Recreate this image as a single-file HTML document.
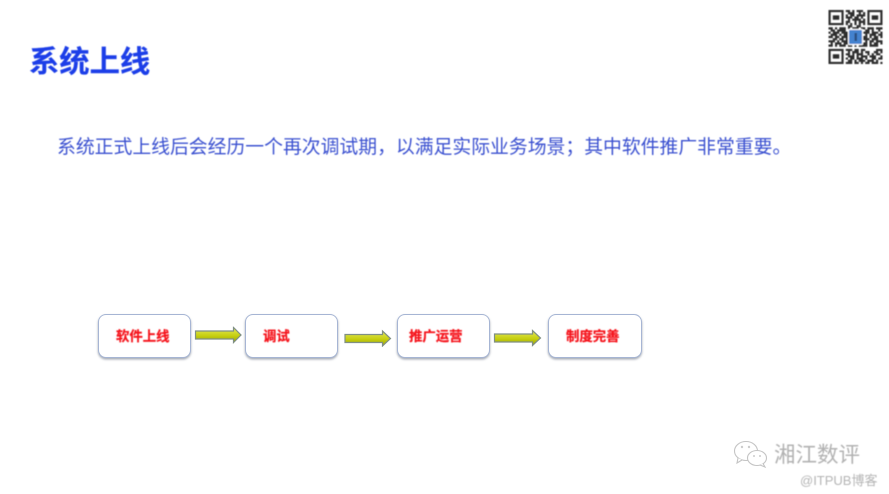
<!DOCTYPE html>
<html lang="zh">
<head>
<meta charset="utf-8">
<style>
html,body{margin:0;padding:0;background:#fff}
body{width:889px;height:494px;overflow:hidden;position:relative;font-family:"Liberation Sans","Noto Sans CJK SC",sans-serif}
.t{position:absolute;white-space:nowrap;line-height:1}
.title{left:29px;top:48px;font-size:30.300px;font-weight:700;color:#1c3ee8;filter:blur(.4px);-webkit-text-stroke:.2px #1c3ee8}
.body{left:57px;top:138px;font-size:18.830px;color:#3a50d0;filter:blur(.4px)}
.box{position:absolute;top:314px;width:93px;height:44px;box-sizing:border-box;background:#fff;border:1.700px solid #a6b5d4;border-radius:8px;box-shadow:0 1.500px 2px rgba(90,100,120,.55)}
.lab{top:330px;font-size:13.400px;font-weight:700;color:#f5141c;filter:blur(.45px);-webkit-text-stroke:.25px #f5141c}
.wm{filter:blur(.55px)}
</style>
</head>
<body>
<div class="t title">系统上线</div>
<div class="t body">系统正式上线后会经历一个再次调试期，以满足实际业务场景；其中软件推广非常重要。</div>

<div class="box" style="left:98px"></div>
<div class="box" style="left:245px"></div>
<div class="box" style="left:397px;width:92.500px"></div>
<div class="box" style="left:548px;width:93.500px"></div>

<div class="t lab" style="left:116px">软件上线</div>
<div class="t lab" style="left:263px">调试</div>
<div class="t lab" style="left:409px">推广运营</div>
<div class="t lab" style="left:566px">制度完善</div>

<svg style="position:absolute;left:0;top:0" width="889" height="494" viewBox="0 0 889 494">
  <defs>
    <linearGradient id="g" x1="0" y1="0" x2="0" y2="1">
      <stop offset="0" stop-color="#e4e85a"/>
      <stop offset=".55" stop-color="#c6cf10"/>
      <stop offset="1" stop-color="#9aa308"/>
    </linearGradient>
    <filter id="b1" x="-5%" y="-5%" width="110%" height="110%"><feGaussianBlur stdDeviation=".6"/></filter>
    <filter id="b2" x="-5%" y="-5%" width="110%" height="110%"><feGaussianBlur stdDeviation=".35"/></filter>
  </defs>
  <g fill="url(#g)" stroke="#7f8f84" stroke-width="1.200" filter="url(#b2)">
    <path d="M195.500 331H233.500V327.500L241 335L233.500 342.500V339H195.500Z"/>
    <path d="M345 334.500H382.500V331L390.500 338.500L382.500 346V342.500H345Z"/>
    <path d="M494.500 334H532.500V330.500L540.500 338L532.500 345.500V342H494.500Z"/>
  </g>

  <!-- QR code -->
  <g filter="url(#b1)" opacity=".92">
    <g transform="translate(828.500 10) scale(2.160)" fill="none" stroke="#1c1c1c" stroke-width="1">
      <path d="M0 .5h7M0 6.500h7M.5 1v5M6.500 1v5M18 .5h7M18 6.500h7M18.500 1v5M24.500 1v5M0 18.500h7M0 24.500h7M.5 19v5M6.500 19v5"/>
      <path d="M8 .5h2M11 .5h1M13 .5h3M9 1.500h3M14 1.500h1M16 1.500h1M8 2.500h1M10 2.500h2M13 2.500h4M8 3.500h3M12 3.500h2M15 3.500h1M9 4.500h1M11 4.500h4M16 4.500h1M8 5.500h2M12 5.500h1M14 5.500h3M8 6.500h1M10 6.500h1M12 6.500h1M14 6.500h1M16 6.500h1"/>
      <path d="M9 7.500h2M13 7.500h2M0 8.500h2M3 8.500h1M5 8.500h3M9 8.500h1M11 8.500h3M15 8.500h2M18 8.500h3M22 8.500h3M1 9.500h2M4 9.500h4M10 9.500h2M14 9.500h1M17 9.500h2M20 9.500h1M23 9.500h1M0 10.500h1M2 10.500h3M6 10.500h3M16 10.500h3M20 10.500h3M24 10.500h1M1 11.500h3M5 11.500h1M7 11.500h2M17 11.500h1M19 11.500h3M23 11.500h2M0 12.500h2M3 12.500h2M6 12.500h3M16 12.500h2M19 12.500h1M21 12.500h2M24 12.500h1M2 13.500h2M5 13.500h2M8 13.500h1M16 13.500h3M20 13.500h3M0 14.500h3M4 14.500h1M6 14.500h3M17 14.500h1M19 14.500h2M22 14.500h3M1 15.500h1M3 15.500h3M7 15.500h4M13 15.500h2M16 15.500h2M19 15.500h1M21 15.500h2M24 15.500h1M0 16.500h2M3 16.500h1M5 16.500h3M9 16.500h2M12 16.500h1M14 16.500h4M19 16.500h4"/>
      <path d="M8 18.500h3M12 18.500h2M15 18.500h2M22 18.500h3M9 19.500h1M11 19.500h3M15 19.500h1M17 19.500h2M21 19.500h2M24 19.500h1M8 20.500h2M11 20.500h1M13 20.500h3M18 20.500h1M20 20.500h1M22 20.500h2M9 21.500h3M13 21.500h1M15 21.500h3M19 21.500h3M24 21.500h1M8 22.500h1M10 22.500h2M13 22.500h3M17 22.500h1M20 22.500h2M23 22.500h2M9 23.500h2M12 23.500h1M14 23.500h3M18 23.500h3M22 23.500h1M8 24.500h3M12 24.500h2M15 24.500h1M17 24.500h2M20 24.500h3M24 24.500h1"/>
      <path d="M2 2.500h3v2H2zM20 2.500h3v2h-3zM2 20.500h3v2H2z" fill="#1c1c1c" stroke="none"/>
    </g>
    <rect x="848" y="29" width="15" height="16" rx="1" fill="#fff"/>
    <rect x="849" y="30" width="13" height="14" rx="1" fill="#3478cc"/>
    <rect x="854.500" y="33" width="2.500" height="8" fill="#1b3f78"/>
  </g>

  <!-- WeChat mark -->
  <g fill="#fff" stroke="#c4c4c4" stroke-width="1.100" filter="url(#b2)">
    <ellipse cx="746" cy="451" rx="11.500" ry="9.500"/>
    <path d="M738 458l-1 5 5-3" fill="#fff"/>
    <ellipse cx="757" cy="458" rx="9.500" ry="7.500"/>
    <path d="M763 463.500l2 3.500-5-2" fill="#fff"/>
  </g>
  <g fill="#cccccc">
    <circle cx="742" cy="447" r="1.200"/><circle cx="749" cy="447" r="1.200"/>
    <circle cx="754" cy="456" r="1"/><circle cx="760" cy="456" r="1"/>
  </g>
</svg>

<div class="t wm" style="left:774px;top:445px;font-size:21.500px;color:#b2b2b2">湘江数评</div>
<div class="t wm" style="left:800px;top:474px;font-size:13px;color:#b4b4b4">@ITPUB博客</div>
</body>
</html>
